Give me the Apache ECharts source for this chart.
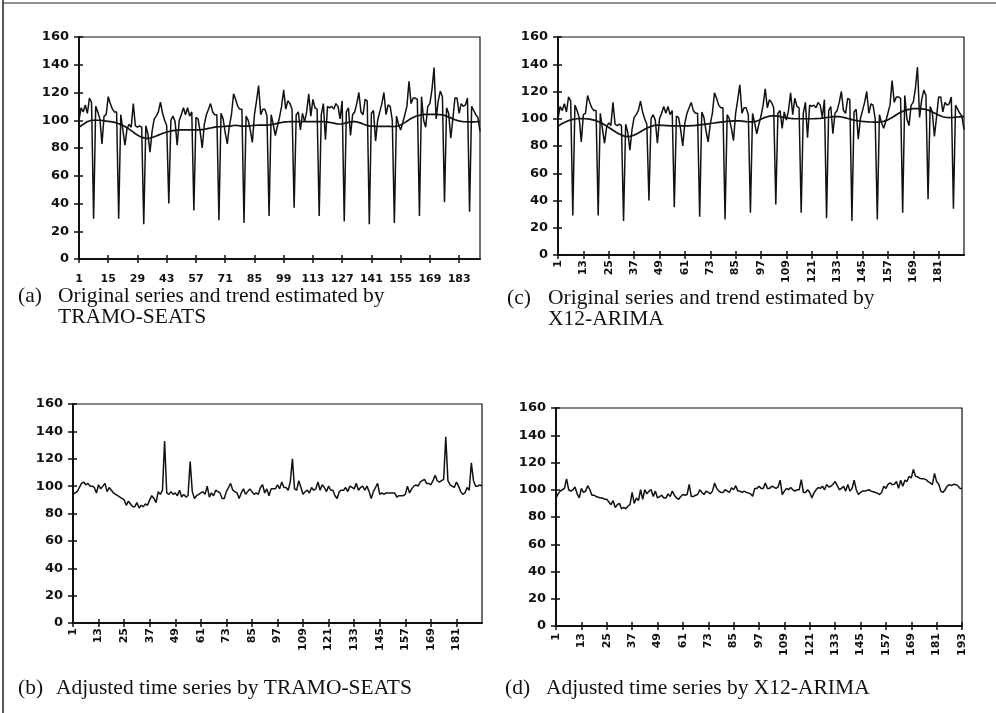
<!DOCTYPE html>
<html>
<head>
<meta charset="utf-8">
<script src="https://cdn.jsdelivr.net/npm/echarts@6/dist/echarts.min.js"></script>
<style>
  html, body { margin: 0; padding: 0; background: #fff; }
  #chart { width: 996px; height: 713px; }
</style>
</head>
<body>
<div id="chart"></div>
<script>
// monthly index values, 193 months (one row per year)
const original = [
  100, 109, 106, 111, 105, 116, 113, 29, 110, 106, 101, 83,
  103, 104, 117, 112, 108, 106, 106, 29, 104, 93, 82, 94,
  97, 95, 112, 96, 95, 96, 95, 25, 96, 90, 77, 92,
  101, 103, 106, 113, 105, 100, 96, 40, 100, 103, 99, 82,
  100, 104, 109, 104, 109, 103, 106, 35, 102, 101, 92, 80,
  97, 104, 108, 112, 106, 104, 104, 28, 105, 101, 91, 83,
  96, 104, 119, 115, 110, 108, 108, 26, 103, 100, 93, 84,
  104, 114, 125, 104, 108, 108, 103, 31, 104, 97, 89, 96,
  102, 110, 122, 108, 114, 112, 108, 37, 104, 106, 93, 105,
  99, 106, 119, 103, 115, 109, 108, 31, 104, 112, 86, 110,
  109, 110, 108, 112, 110, 101, 114, 27, 106, 109, 89, 104,
  106, 112, 120, 106, 104, 115, 114, 25, 105, 107, 85, 100,
  106, 112, 120, 104, 111, 110, 100, 26, 103, 97, 93, 98,
  104, 110, 128, 112, 116, 116, 115, 31, 117, 100, 95, 110,
  112, 122, 138, 101, 114, 121, 117, 41, 109, 105, 87, 101,
  116, 116, 105, 112, 110, 111, 116, 34, 110, 107, 104, 102,
  92
];

const trendTramo = [
  95, 96, 97, 98, 99, 99.5, 100, 100, 100, 100, 100, 99.8,
  99.6, 99.4, 99.2, 99, 98.8, 98.5, 98, 97.5, 97, 96.3, 95.5, 94.6,
  93.6, 92.5, 91.4, 90.3, 89.3, 88.5, 87.8, 87.3, 87, 87, 87.2, 87.6,
  88.1, 88.7, 89.3, 89.9, 90.5, 91, 91.5, 91.9, 92.2, 92.5, 92.7, 92.9,
  93, 93, 93, 93, 93, 93, 93, 93, 93, 93, 93.1, 93.3,
  93.5, 93.8, 94.1, 94.4, 94.7, 95, 95.2, 95.3, 95.4, 95.5, 95.6, 95.7,
  95.8, 96, 96.2, 96.3, 96.2, 96, 95.8, 95.7, 95.7, 95.8, 96, 96.2,
  96.3, 96.4, 96.5, 96.5, 96.5, 96.5, 96.5, 96.6, 96.8, 97.1, 97.4, 97.8,
  98.1, 98.4, 98.6, 98.8, 98.9, 99, 99, 99, 99, 99, 99, 99,
  99, 99, 99, 99, 99, 99, 99, 99, 99, 99, 98.9, 98.7,
  98.5, 98.2, 97.9, 97.6, 97.4, 97.3, 97.4, 97.7, 98.1, 98.5, 98.8, 99,
  99, 98.8, 98.4, 97.9, 97.3, 96.8, 96.3, 96, 95.8, 95.7, 95.6, 95.6,
  95.6, 95.6, 95.6, 95.6, 95.6, 95.6, 95.5, 95.5, 95.6, 96, 96.6, 97.4,
  98.3, 99.3, 100.3, 101.2, 102, 102.7, 103.2, 103.6, 103.9, 104.1, 104.2, 104.3,
  104.3, 104.3, 104.3, 104.2, 104.1, 104, 103.8, 103.5, 103, 102.4, 101.7, 101,
  100.4, 99.9, 99.5, 99.2, 99, 98.9, 98.8, 98.8, 98.8, 98.8, 98.9, 99,
  99
];

const trendX12 = [
  94.5, 95.5, 96.5, 97.3, 98, 98.6, 99.1, 99.5, 99.8, 100, 100.1, 100.1,
  100.1, 100, 99.9, 99.7, 99.4, 99, 98.5, 98, 97.3, 96.5, 95.6, 94.6,
  93.6, 92.6, 91.6, 90.6, 89.6, 88.8, 88, 87.4, 87, 86.9, 87.1, 87.5,
  88, 88.7, 89.5, 90.4, 91.4, 92.3, 93.1, 93.8, 94.4, 94.9, 95.2, 95.3,
  95.3, 95.2, 95.1, 95, 94.9, 94.8, 94.8, 94.8, 94.8, 94.8, 94.8, 94.8,
  94.8, 94.8, 94.8, 94.9, 95, 95.1, 95.3, 95.5, 95.7, 95.9, 96.1, 96.3,
  96.5, 96.7, 96.9, 97.1, 97.3, 97.5, 97.7, 97.9, 98.1, 98.2, 98.3, 98.4,
  98.5, 98.5, 98.4, 98.3, 98.1, 97.9, 97.8, 97.7, 97.7, 97.9, 98.3, 98.9,
  99.6, 100.3, 101, 101.5, 101.9, 102.1, 102.2, 102.1, 101.9, 101.6, 101.2, 100.9,
  100.6, 100.4, 100.2, 100.1, 100, 100, 100, 100, 100, 100, 100, 100,
  100, 100, 100.1, 100.2, 100.3, 100.5, 100.7, 100.9, 101.1, 101.3, 101.5, 101.6,
  101.6, 101.5, 101.3, 101, 100.6, 100.2, 99.8, 99.4, 99, 98.7, 98.4, 98.2,
  98, 97.9, 97.8, 97.7, 97.6, 97.5, 97.5, 97.5, 97.6, 97.8, 98.1, 98.6,
  99.2, 100, 100.9, 101.9, 102.9, 103.8, 104.7, 105.4, 106, 106.5, 106.9, 107.2,
  107.4, 107.5, 107.5, 107.4, 107.3, 107.1, 106.8, 106.3, 105.7, 105, 104.2, 103.4,
  102.7, 102, 101.5, 101.1, 100.9, 100.8, 100.9, 101, 101.2, 101.3, 101.4, 101.5,
  101.5
];

const adjTramo = [
  94, 95, 96, 99, 102, 103, 101, 102, 100, 100, 99, 95,
  101, 98, 100, 102, 96, 99, 97, 95, 94, 93, 92, 91,
  90, 86, 89, 87, 85, 85, 88, 84, 86, 85, 87, 86,
  90, 93, 91, 88, 96, 94, 97, 133, 95, 94, 96, 94,
  95, 93, 97, 92, 94, 92, 93, 118, 96, 91, 93, 94,
  95, 96, 94, 100, 92, 95, 93, 97, 96, 95, 91, 91,
  96, 99, 102, 97, 96, 95, 91, 95, 98, 94, 96, 98,
  96, 94, 95, 94, 99, 101, 95, 98, 93, 98, 98, 98,
  101, 98, 103, 99, 99, 97, 103, 120, 98, 97, 104, 99,
  94, 96, 97, 95, 99, 97, 98, 103, 97, 101, 99, 96,
  100, 97, 97, 93, 91, 96, 97, 97, 99, 96, 100, 99,
  98, 102, 97, 99, 100, 97, 100, 96, 91, 96, 99, 102,
  94, 95, 94, 95, 95, 95, 95, 95, 92, 93, 93, 93,
  94, 100, 95, 98, 100, 101, 100, 103, 104, 105, 102, 102,
  101, 104, 108, 104, 103, 104, 105, 136, 104, 101, 100, 99,
  103, 100, 96, 94, 95, 99, 97, 117, 104, 100, 100, 101,
  100
];

const adjX12 = [
  94, 97, 99, 100, 101, 108, 100, 99, 100, 102, 97, 94,
  101, 98, 99, 103, 100, 96, 96, 95, 94.5, 94, 94, 93,
  93, 91, 89, 92, 87, 89, 90, 86, 87, 86, 88, 89,
  98, 90, 94, 92, 100, 93, 100, 97, 99, 100, 95, 99,
  94, 95, 96, 94, 94, 97, 95, 99, 96, 94, 93, 95,
  96.5, 96, 96.5, 104, 95, 95, 96, 96.5, 100, 98, 96.5, 99,
  98, 97, 99, 105, 101, 99, 98, 98, 100, 99, 98, 101.5,
  100, 103, 99, 99, 98, 99, 98, 97.7, 97, 95.2, 101, 101,
  102.6, 101, 101, 105, 101, 101, 102.6, 102, 101, 102, 107, 96.5,
  99, 101, 100, 101.6, 100, 99, 100, 100, 107.4, 98, 98, 100,
  98, 94, 97.7, 100, 101.6, 101, 102.6, 100, 103.8, 102, 102.6, 104,
  106, 103, 100, 101, 102.6, 99, 103.8, 99, 101, 107, 100, 96.5,
  98, 99, 99, 99.5, 100, 99, 98.5, 98, 97.5, 96.5, 98, 102.6,
  101, 104, 105, 103.8, 104, 106, 101, 107, 102.6, 107, 106, 109.9,
  108.6, 115, 110, 109.4, 108.5, 108, 108, 107.4, 106, 105, 103.8, 112,
  106, 104, 99, 98, 100, 102.6, 103.8, 103, 104, 103.8, 103, 101,
  101
];

const months = original.map((_, k) => String(k + 1));

const chart = echarts.init(document.getElementById('chart'));

const panels = [
  { grid: { left: 79, top: 37, width: 401, height: 222 }, lines: [original, trendTramo], step: 14, rotate: 0, withLast: false, margin: 15 },
  { grid: { left: 558, top: 37, width: 406, height: 218 }, lines: [original, trendX12], step: 12, rotate: 90, withLast: false, margin: 5 },
  { grid: { left: 73, top: 404, width: 409, height: 219 }, lines: [adjTramo], step: 12, rotate: 90, withLast: false, margin: 5 },
  { grid: { left: 556, top: 408, width: 406, height: 218 }, lines: [adjX12], step: 12, rotate: 90, withLast: true, margin: 7 },
];

const ink = '#111';
const grids = [], xAxes = [], yAxes = [], series = [];

panels.forEach((p, g) => {
  const pick = (i) => i % p.step === 0 && (p.withLast || i < months.length - 1);
  grids.push({ ...p.grid, show: true, borderColor: ink, borderWidth: 1.2, containLabel: false });
  // outer axis with labels + inner axis for ticks that cross the line
  xAxes.push({
    gridIndex: g, type: 'category', data: months, boundaryGap: false, position: 'bottom',
    axisLine: { lineStyle: { color: ink, width: 2 } },
    axisTick: { interval: pick, length: 4, lineStyle: { color: ink, width: 1.5 } },
    axisLabel: {
      interval: pick, rotate: p.rotate, margin: p.margin, color: ink,
      fontFamily: 'DejaVu Sans', fontSize: 11, fontWeight: 'bold'
    },
    splitLine: { show: false }
  });
  xAxes.push({
    gridIndex: g, type: 'category', data: months, boundaryGap: false, position: 'bottom',
    axisLine: { show: false }, axisLabel: { show: false }, splitLine: { show: false },
    axisTick: { inside: true, interval: pick, length: 4, lineStyle: { color: ink, width: 1.5 } }
  });
  yAxes.push({
    gridIndex: g, type: 'value', min: 0, max: 160, interval: 20, position: 'left',
    axisLine: { show: true, lineStyle: { color: ink, width: 2 } },
    axisTick: { show: true, length: 5, lineStyle: { color: ink, width: 1.5 } },
    axisLabel: { margin: 10, color: ink, fontFamily: 'DejaVu Sans', fontSize: 13, fontWeight: 'bold' },
    splitLine: { show: false }
  });
  yAxes.push({
    gridIndex: g, type: 'value', min: 0, max: 160, interval: 20, position: 'left',
    axisLine: { show: false }, axisLabel: { show: false }, splitLine: { show: false },
    axisTick: { show: true, inside: true, length: 4, lineStyle: { color: ink, width: 1.5 } }
  });
  p.lines.forEach((vals, k) => {
    series.push({
      type: 'line', xAxisIndex: g * 2, yAxisIndex: g * 2, data: vals,
      showSymbol: false, silent: true, z: 3 + k,
      lineStyle: { color: ink, width: k === 0 ? 1.5 : 1.7 }
    });
  });
});

const cap = (x, y, text) => ({
  type: 'text', left: x, top: y,
  style: { text, fill: ink, font: '21.5px "Liberation Serif", "Times New Roman", serif' }
});

chart.setOption({
  animation: false,
  backgroundColor: '#fff',
  grid: grids,
  xAxis: xAxes,
  yAxis: yAxes,
  series,
  graphic: [
    { type: 'line', shape: { x1: 3, y1: 0, x2: 3, y2: 713 }, style: { stroke: '#222', lineWidth: 1.5 } },
    { type: 'line', shape: { x1: 3, y1: 3, x2: 996, y2: 3 }, style: { stroke: '#222', lineWidth: 1 } },
    cap(18, 285, '(a)'), cap(58, 285, 'Original series and trend estimated by'), cap(58, 306, 'TRAMO-SEATS'),
    cap(507, 287, '(c)'), cap(548, 287, 'Original series and trend estimated by'), cap(548, 308, 'X12-ARIMA'),
    cap(18, 677, '(b)'), cap(56, 677, 'Adjusted time series by TRAMO-SEATS'),
    cap(505, 677, '(d)'), cap(546, 677, 'Adjusted time series by X12-ARIMA')
  ]
});
</script>
</body>
</html>
